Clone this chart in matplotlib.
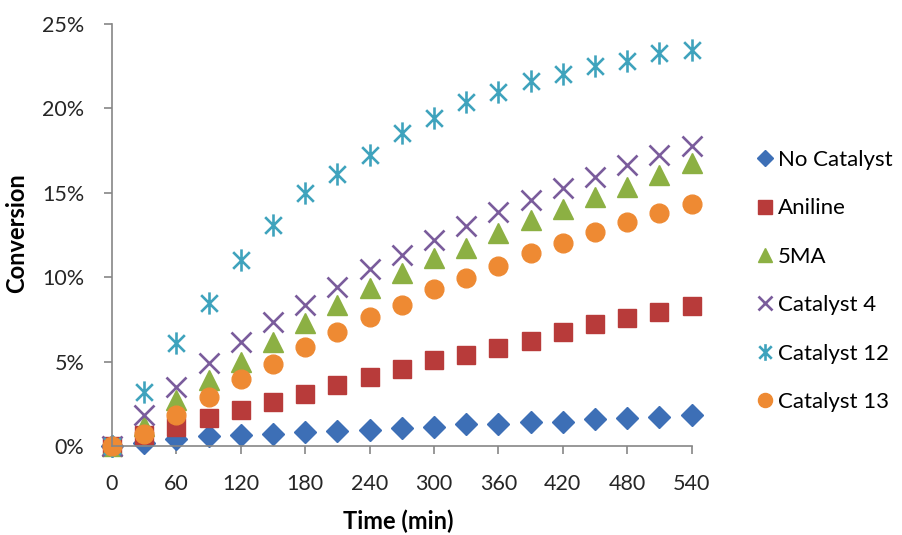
import matplotlib.pyplot as plt
from matplotlib.path import Path
from matplotlib.ticker import FuncFormatter

plt.rcParams['font.family'] = ['Lato', 'DejaVu Sans']

time_min = [0, 30, 60, 90, 120, 150, 180, 210, 240, 270, 300, 330, 360, 390, 420, 450, 480, 510, 540]

# conversion values in percent
no_catalyst = [0, 0.2, 0.4, 0.6, 0.65, 0.7, 0.85, 0.9, 0.95, 1.05, 1.15, 1.3, 1.3, 1.45, 1.45, 1.6, 1.65, 1.75, 1.85]
aniline = [0, 0.65, 1.15, 1.68, 2.13, 2.59, 3.12, 3.62, 4.11, 4.55, 5.1, 5.4, 5.83, 6.23, 6.74, 7.21, 7.61, 7.96, 8.3]
ma5 = [0, 1.2, 2.73, 3.9, 5.0, 6.19, 7.27, 8.36, 9.35, 10.24, 11.13, 11.72, 12.6, 13.4, 14.03, 14.78, 15.38, 16.07, 16.76]
catalyst_4 = [0, 1.84, 3.52, 4.94, 6.19, 7.37, 8.36, 9.45, 10.47, 11.32, 12.21, 13.04, 13.87, 14.58, 15.32, 15.97, 16.66, 17.25, 17.75]
catalyst_12 = [0, 3.22, 6.09, 8.5, 11.03, 13.08, 14.98, 16.13, 17.25, 18.52, 19.43, 20.36, 21.0, 21.6, 22.06, 22.49, 22.83, 23.28, 23.48]
catalyst_13 = [0, 0.75, 1.84, 2.92, 3.95, 4.84, 5.89, 6.78, 7.67, 8.36, 9.29, 9.94, 10.69, 11.42, 12.06, 12.67, 13.3, 13.79, 14.33]

# vertical bar plus a diagonal cross
asterisk = Path([(0, -1), (0, 1), (-0.75, -0.75), (0.75, 0.75), (-0.75, 0.75), (0.75, -0.75)],
                [Path.MOVETO, Path.LINETO] * 3)

series = [
    ('No Catalyst', no_catalyst, 'D', '#3d6fb6', 11, 'full'),
    ('Aniline', aniline, 's', '#b83b3a', 12.5, 'full'),
    ('5MA', ma5, '^', '#8cb043', 14, 'full'),
    ('Catalyst 4', catalyst_4, 'x', '#7a5c9c', 14, 'line'),
    ('Catalyst 12', catalyst_12, asterisk, '#3fa3bd', 16, 'line'),
    ('Catalyst 13', catalyst_13, 'o', '#ee8a33', 13.5, 'full'),
]

fig = plt.figure(figsize=(9.03, 5.35), dpi=100)
ax = fig.add_axes([0.124, 0.166, 0.642, 0.789])

for name, vals, marker, color, size, kind in series:
    y = [v / 100 for v in vals]
    if kind == 'line':
        ax.plot(time_min, y, linestyle='none', marker=marker, markersize=size,
                markeredgecolor=color, markeredgewidth=1.9, label=name, clip_on=False)
    else:
        ax.plot(time_min, y, linestyle='none', marker=marker, markersize=size,
                color=color, markeredgecolor=color, label=name, clip_on=False)

ax.set_xlim(0, 540)
ax.set_ylim(0, 0.25)
ax.set_xticks(range(0, 541, 60))
ax.set_yticks([0, 0.05, 0.10, 0.15, 0.20, 0.25])
ax.yaxis.set_major_formatter(FuncFormatter(lambda v, p: f'{round(v * 100)}%'))

for side in ['top', 'right']:
    ax.spines[side].set_visible(False)
for side in ['left', 'bottom']:
    ax.spines[side].set_color('#868686')
    ax.spines[side].set_linewidth(1.2)
ax.tick_params(axis='both', colors='#868686', labelcolor='#262626', labelsize=15.5,
               length=6, width=1.2, direction='out')
ax.tick_params(axis='x', pad=14)
ax.tick_params(axis='y', pad=14)

fig.text(0.441, 1 - 521 / 535, 'Time (min)', fontsize=17, fontweight='bold',
         ha='center', va='center')
fig.text(17 / 903, 1 - 233 / 535, 'Conversion', fontsize=17, fontweight='bold',
         ha='center', va='center', rotation=90)

fig.legend(loc='center left', bbox_to_anchor=(0.836, 1 - 281 / 535), frameon=False,
           fontsize=16, labelspacing=1.28, handlelength=0.9, handletextpad=0.15,
           borderpad=0, borderaxespad=0, markerscale=0.75)

plt.savefig('out.png', dpi=100)
